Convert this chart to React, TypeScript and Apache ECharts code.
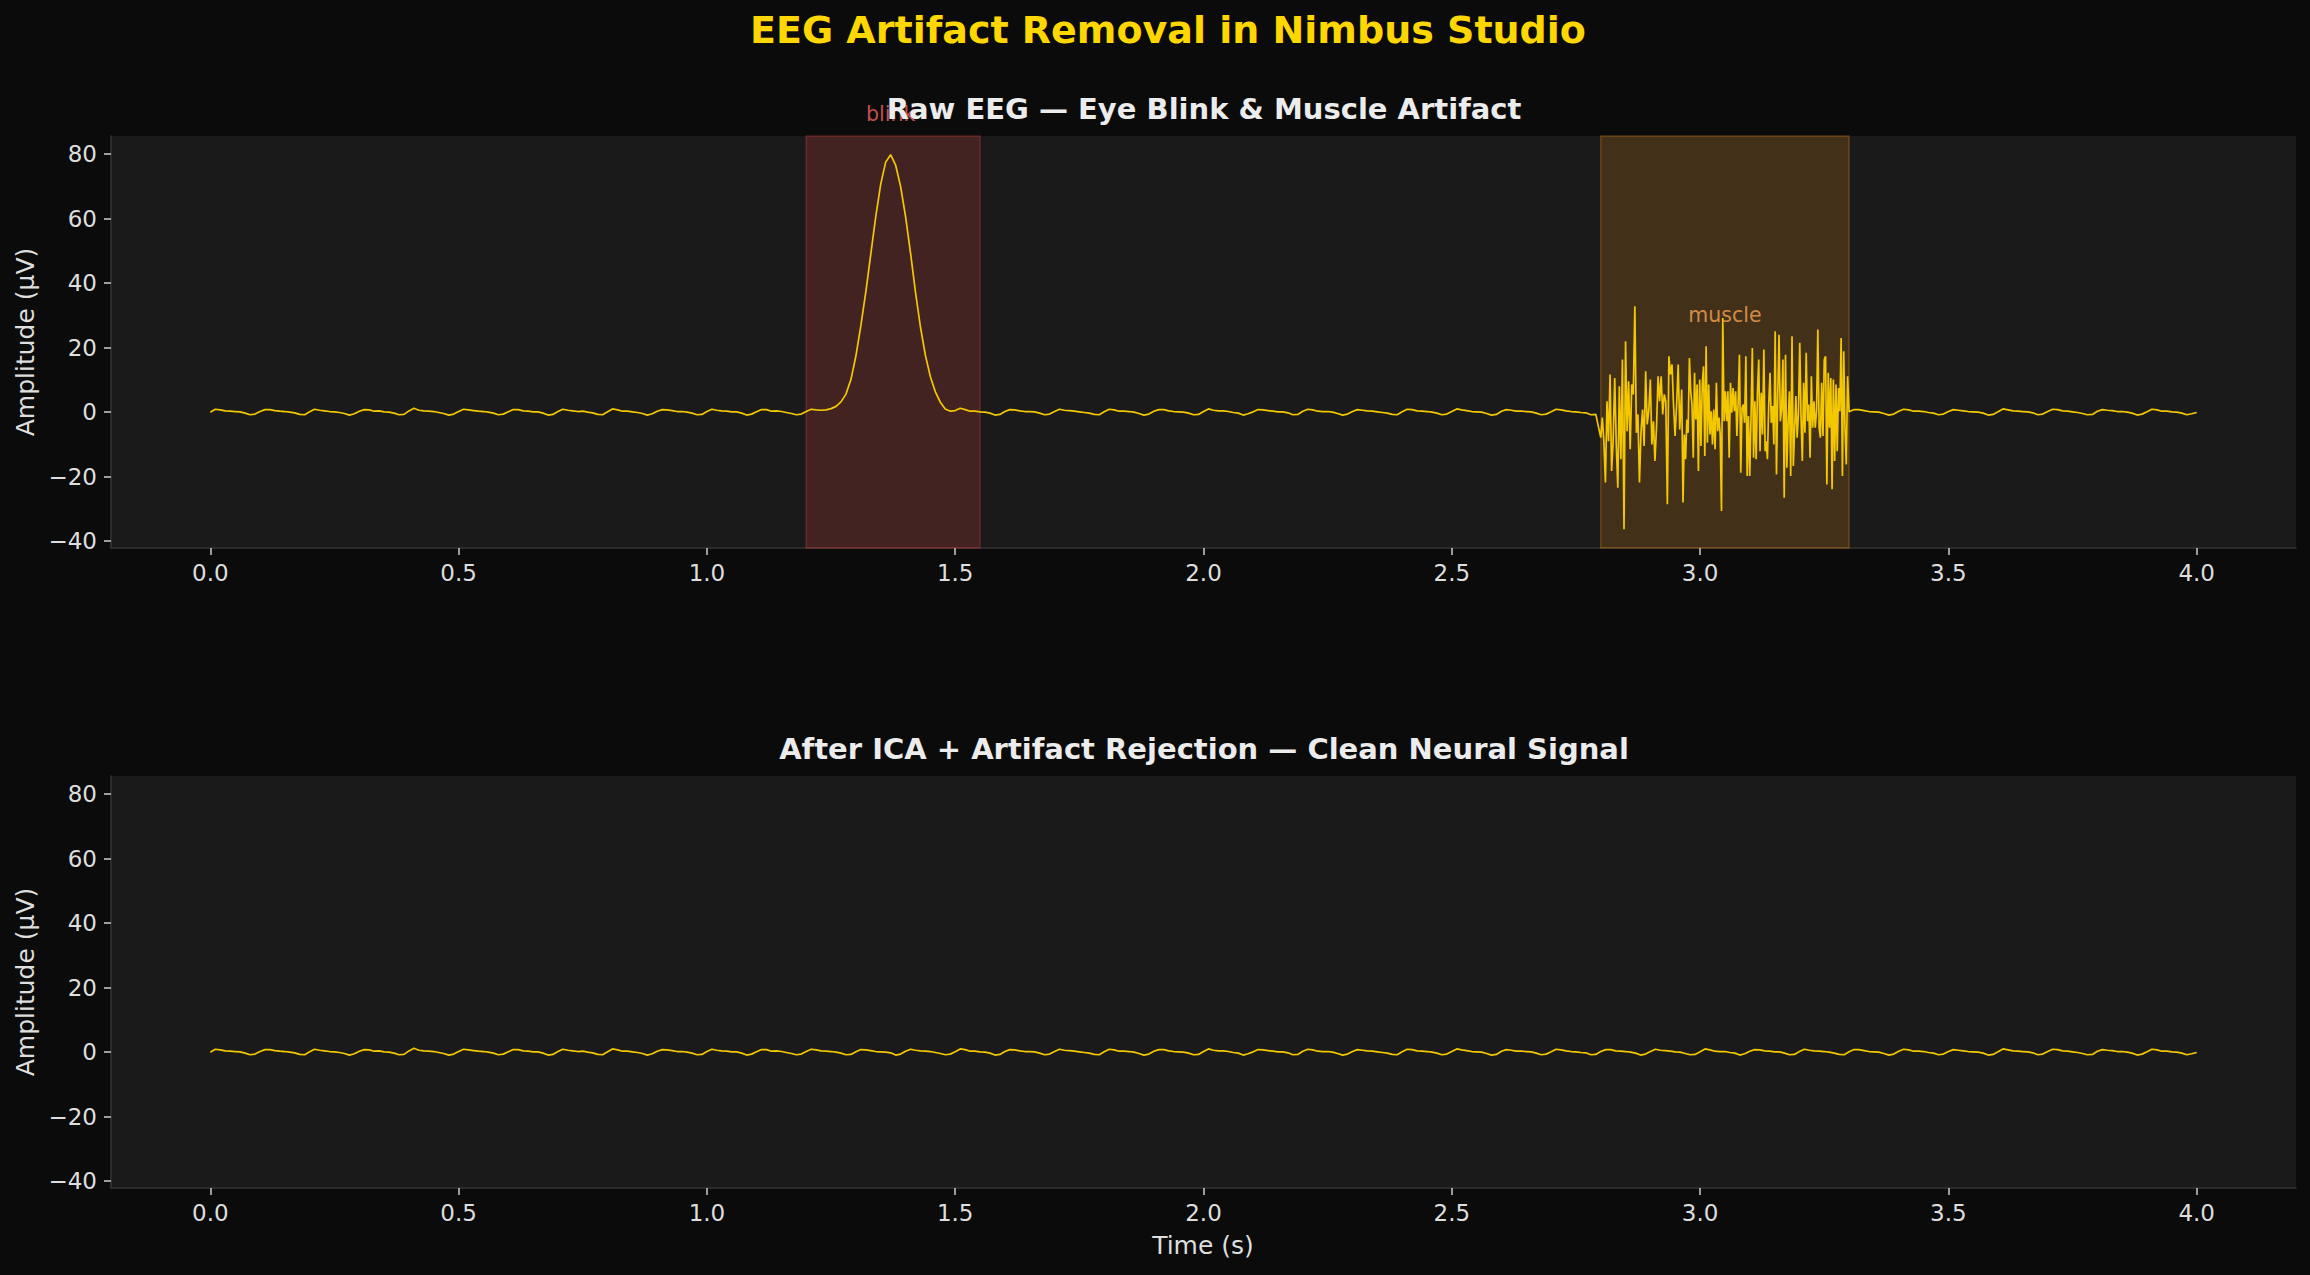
import React, { useEffect, useRef } from 'react';
import * as echarts from 'echarts';

const FONT = '"DejaVu Sans", "Liberation Sans", sans-serif';

const mainTitle = 'EEG Artifact Removal in Nimbus Studio';
const rawTitle = 'Raw EEG \u2014 Eye Blink & Muscle Artifact';
const cleanTitle = 'After ICA + Artifact Rejection \u2014 Clean Neural Signal';
const yLabel = 'Amplitude (\u00b5V)';
const xLabel = 'Time (s)';

const xTicks = [0, 0.5, 1, 1.5, 2, 2.5, 3, 3.5, 4];
const yTicks = [-40, -20, 0, 20, 40, 60, 80];
const xRange = [-0.2, 4.2];
const yRange = [-42.1, 85.6];

// background alpha rhythm, sampled every 0.01 s from 0 to 4 s (µV)
const sampleStep = 0.01;
const cleanSignal = [
  0.0, 0.9, 0.7, 0.4, 0.3, 0.2, 0.1, -0.3, -0.8, -0.6,
  0.2, 0.8, 0.8, 0.5, 0.3, 0.2, 0.0, -0.2, -0.7, -0.8,
  0.1, 0.9, 0.6, 0.4, 0.2, 0.1, -0.1, -0.4, -0.9, -0.5,
  0.3, 0.8, 0.7, 0.3, 0.4, 0.1, 0.0, -0.3, -0.8, -0.7,
  0.4, 1.2, 0.6, 0.4, 0.3, 0.2, -0.1, -0.4, -0.9, -0.6,
  0.2, 0.9, 0.7, 0.5, 0.3, 0.2, 0.0, -0.3, -0.8, -0.6,
  0.1, 0.8, 0.8, 0.4, 0.3, 0.1, 0.1, -0.3, -0.9, -0.7,
  0.2, 0.9, 0.6, 0.4, 0.2, 0.3, 0.0, -0.2, -0.7, -0.8,
  0.1, 1.0, 0.7, 0.3, 0.3, 0.1, -0.1, -0.4, -0.9, -0.5,
  0.3, 0.8, 0.7, 0.5, 0.2, 0.2, 0.0, -0.3, -0.8, -0.7,
  0.2, 0.9, 0.6, 0.4, 0.3, 0.1, 0.1, -0.3, -0.9, -0.6,
  0.1, 0.8, 0.8, 0.3, 0.4, 0.2, -0.1, -0.4, -0.8, -0.6,
  0.2, 0.9, 0.7, 0.4, 0.3, 0.2, 0.0, -0.3, -0.8, -0.7,
  0.1, 0.8, 0.7, 0.5, 0.2, 0.1, 0.0, -0.2, -0.9, -0.6,
  0.3, 0.9, 0.6, 0.4, 0.3, 0.2, -0.1, -0.4, -0.8, -0.6,
  0.1, 1.0, 0.8, 0.3, 0.3, 0.1, 0.0, -0.3, -0.9, -0.7,
  0.2, 0.8, 0.7, 0.4, 0.2, 0.2, 0.1, -0.3, -0.8, -0.6,
  0.2, 0.9, 0.6, 0.5, 0.3, 0.1, -0.1, -0.3, -0.7, -0.8,
  0.1, 0.9, 0.7, 0.3, 0.3, 0.2, 0.0, -0.4, -0.9, -0.6,
  0.3, 0.8, 0.8, 0.4, 0.2, 0.1, 0.0, -0.3, -0.8, -0.7,
  0.2, 1.0, 0.6, 0.4, 0.4, 0.2, -0.1, -0.3, -0.9, -0.5,
  0.1, 0.8, 0.7, 0.5, 0.3, 0.1, 0.1, -0.2, -0.8, -0.7,
  0.3, 0.9, 0.7, 0.3, 0.2, 0.2, 0.0, -0.4, -0.9, -0.6,
  0.2, 0.8, 0.6, 0.4, 0.3, 0.1, -0.1, -0.3, -0.7, -0.8,
  0.1, 0.9, 0.8, 0.4, 0.3, 0.2, 0.0, -0.3, -0.8, -0.6,
  0.2, 1.0, 0.7, 0.5, 0.2, 0.1, 0.0, -0.4, -0.9, -0.7,
  0.3, 0.8, 0.6, 0.3, 0.3, 0.2, 0.1, -0.3, -0.8, -0.6,
  0.1, 0.9, 0.7, 0.4, 0.2, 0.1, -0.1, -0.2, -0.8, -0.7,
  0.2, 0.8, 0.8, 0.4, 0.3, 0.2, 0.0, -0.3, -0.9, -0.6,
  0.2, 0.9, 0.6, 0.5, 0.3, 0.1, 0.0, -0.4, -0.8, -0.7,
  0.1, 1.0, 0.7, 0.3, 0.2, 0.2, -0.1, -0.3, -0.9, -0.5,
  0.3, 0.8, 0.7, 0.4, 0.3, 0.1, 0.1, -0.3, -0.8, -0.7,
  0.2, 0.9, 0.6, 0.4, 0.3, 0.2, 0.0, -0.3, -0.7, -0.8,
  0.1, 0.8, 0.8, 0.5, 0.2, 0.1, 0.0, -0.4, -0.9, -0.6,
  0.3, 0.9, 0.7, 0.3, 0.3, 0.2, -0.1, -0.3, -0.8, -0.6,
  0.2, 0.8, 0.6, 0.4, 0.2, 0.1, 0.0, -0.3, -0.9, -0.7,
  0.1, 1.0, 0.7, 0.4, 0.3, 0.2, 0.1, -0.2, -0.8, -0.6,
  0.2, 0.9, 0.8, 0.4, 0.3, 0.1, -0.1, -0.4, -0.8, -0.7,
  0.3, 0.8, 0.6, 0.5, 0.2, 0.2, 0.0, -0.3, -0.9, -0.6,
  0.1, 0.9, 0.7, 0.3, 0.3, 0.1, 0.0, -0.3, -0.8, -0.5,
  -0.1,
];

// eye blink artifact (raw signal), every 0.01 s from 1.20 s to 1.55 s
const blinkStart = 1.2;
const blinkValues = [
  0.2, 0.9, 0.7, 0.6, 0.7, 1.1, 1.8, 3.2, 5.6, 10.1,
  17.4, 26.8, 37.3, 49.0, 60.6, 70.7, 77.5, 79.8, 76.6, 70.0,
  60.7, 49.4, 37.2, 26.4, 17.6, 11.0, 6.3, 3.1, 1.0, 0.3,
  0.5, 1.2, 0.8, 0.3, 0.3, 0.1,
];

// muscle artifact (raw signal), three stretches read left to right
const muscleSegmentTimes = [
  [2.8, 2.959],
  [2.963, 3.131],
  [3.133, 3.297],
];
const muscleA = [
  -7.9, -1.7, -9.0, -21.8, 3.4, -9.0, 11.7, -18.2, -9.0, 10.6,
  -10.0, -23.4, 8.0, -14.6, 16.3, -36.3, 22.0, -5.9, 9.6, -11.5,
  8.6, 5.5, 32.8, -6.4, -0.7, -21.8, -5.9, 0.8, -10.5, 12.7,
  -3.8, 0.3, 10.1, -10.0, -2.8, -15.1, -4.8, 11.1, 3.4, 11.1,
  -0.7, 5.5, 3.4, -28.5, 17.3, 11.7, 14.8, 2.4, -7.4, 2.4,
  14.8, -5.4,
];
const muscleB = [
  7.0, -28.0, -6.9, -14.6, -2.3, -6.4, 16.8, 6.5, 2.4, -14.1,
  12.2, -2.3, 8.6, -18.2, 10.1, -10.5, 8.6, 14.2, -13.6, 20.4,
  -9.5, 8.6, -6.9, 0.3, -10.0, 0.8, -11.5, 9.1, -5.9, -1.7,
  -6.9, -30.6, 29.2, -2.8, 6.5, -2.8, 6.5, -14.1, 9.1, -0.2,
  7.5, 0.3, 6.5, -7.4, 3.4, 17.8, -18.8, 1.3, 2.4, -3.3,
  17.3, -19.8, -1.2, -19.8, -1.2, 19.9, -14.1, 3.4, -14.6, 6.5,
  16.3, -12.1, 6.0, -6.9, 19.4, -12.1,
];
const muscleC = [
  -9.0, -14.6, 2.4, 12.2, -3.3, 1.9, -10.0, 25.1, -19.3, 5.5,
  24.0, -2.8, 0.8, 16.3, -26.5, 17.8, -17.2, -3.3, 6.5, -19.8,
  23.5, -16.7, -5.4, 5.0, -7.9, -0.2, 21.5, -1.7, -15.1, 9.1,
  -6.4, 18.4, -2.8, 2.4, -14.1, 11.1, -4.8, 3.4, -4.8, 0.3,
  25.6, -4.8, -7.9, 9.1, -7.4, 16.3, 17.3, -22.4, 12.2, -4.8,
  10.6, -23.9, 10.1, -15.1, 8.6, -12.1, 7.5, 0.3, 23.0, -19.8,
  18.9, -4.8, -16.2, 11.1,
];

const artifactSpans = [
  { name: 'blink', start: 1.2, end: 1.55 },
  { name: 'muscle', start: 2.8, end: 3.3 },
];
const artifactLabels = [
  { text: 'blink', t: 1.37, v: 90.5 },
  { text: 'muscle', t: 3.05, v: 28 },
];

const spanStyles: Record<string, any> = {
  blink: { color: 'rgba(255,70,70,0.18)', borderColor: 'rgba(255,70,70,0.28)', borderWidth: 1.5 },
  muscle: { color: 'rgba(255,150,20,0.18)', borderColor: 'rgba(255,150,20,0.28)', borderWidth: 1.5 },
};
const labelColors: Record<string, string> = { blink: '#f46262', muscle: '#f7a552' };

const LINE_COLOR = '#f4c800';

const r3 = (x: number) => Math.round(x * 10000) / 10000;

function buildData() {
  const cleanData = cleanSignal.map((v, i) => [r3(i * sampleStep), v]);
  const blinkData = blinkValues.map((v, i) => [r3(blinkStart + i * sampleStep), v]);
  const blinkEnd = blinkData[blinkData.length - 1][0];
  const muscleParts = [muscleA, muscleB, muscleC];
  const muscleData = muscleParts.flatMap((vals, k) => {
    const [s, e] = muscleSegmentTimes[k];
    const step = (e - s) / (vals.length - 1);
    return vals.map((v, i) => [r3(s + i * step), v]);
  });
  const mStart = muscleSegmentTimes[0][0];
  const mEnd = muscleSegmentTimes[muscleSegmentTimes.length - 1][1];
  const eps = 1e-9;
  const rawData = [
    ...cleanData.filter((p) => p[0] < blinkStart - eps),
    ...blinkData,
    ...cleanData.filter((p) => p[0] > blinkEnd + eps && p[0] < mStart - eps),
    ...muscleData,
    ...cleanData.filter((p) => p[0] > mEnd + eps),
  ];
  return { cleanData, rawData };
}

const fmtY = (v: number) => (v < 0 ? '\u2212' + Math.abs(v) : String(v));

function makeX(gridIndex: number) {
  return {
    type: 'value',
    gridIndex,
    min: xRange[0],
    max: xRange[1],
    axisLine: { show: true, onZero: false, lineStyle: { color: '#353535', width: 1.5 } },
    axisTick: { show: true, length: 7, lineStyle: { color: '#cfcfcf', width: 1.5 }, customValues: xTicks },
    axisLabel: {
      customValues: xTicks,
      formatter: (v: number) => v.toFixed(1),
      color: '#dedede',
      fontSize: 23,
      fontFamily: FONT,
      margin: 13,
    },
    splitLine: { show: false },
  };
}

function makeY(gridIndex: number) {
  return {
    type: 'value',
    gridIndex,
    min: yRange[0],
    max: yRange[1],
    axisLine: { show: true, onZero: false, lineStyle: { color: '#353535', width: 1.5 } },
    axisTick: { show: true, length: 7, lineStyle: { color: '#cfcfcf', width: 1.5 }, customValues: yTicks },
    axisLabel: {
      customValues: yTicks,
      formatter: fmtY,
      color: '#dedede',
      fontSize: 23,
      fontFamily: FONT,
      margin: 14,
    },
    splitLine: { show: false },
  };
}

function textEl(text: string, x: number, y: number, size: number, color: string, bold: boolean, rotation = 0) {
  return {
    type: 'text',
    x,
    y,
    rotation,
    z: 100,
    silent: true,
    style: {
      text,
      fill: color,
      fontSize: size,
      fontWeight: bold ? 'bold' : 'normal',
      fontFamily: FONT,
      align: 'center',
      verticalAlign: 'middle',
    },
  };
}

export default function App() {
  const ref = useRef<HTMLDivElement>(null);

  useEffect(() => {
    document.body.style.margin = '0';
    document.body.style.background = '#0b0b0b';
    if (!ref.current) return;
    const chart = echarts.init(ref.current, undefined, { renderer: 'svg' });
    const { cleanData, rawData } = buildData();

    const option: any = {
      animation: false,
      backgroundColor: '#0b0b0b',
      textStyle: { fontFamily: FONT },
      grid: [
        { left: 111, right: 14, top: 136, height: 412, show: true, backgroundColor: '#1a1a1a', borderWidth: 0 },
        { left: 111, right: 14, top: 776, height: 412, show: true, backgroundColor: '#1a1a1a', borderWidth: 0 },
      ],
      xAxis: [makeX(0), makeX(1)],
      yAxis: [makeY(0), makeY(1)],
      graphic: [
        textEl(mainTitle, 1168, 30, 38, '#FFD700', true),
        textEl(rawTitle, 1204, 109, 29, '#ececec', true),
        textEl(cleanTitle, 1204, 749, 29, '#ececec', true),
        textEl(yLabel, 25.5, 342, 25, '#dedede', false, Math.PI / 2),
        textEl(yLabel, 25.5, 982, 25, '#dedede', false, Math.PI / 2),
        textEl(xLabel, 1203, 1245, 25, '#dedede', false),
      ],
      series: [
        {
          name: 'spans',
          type: 'line',
          xAxisIndex: 0,
          yAxisIndex: 0,
          data: [],
          z: 1,
          silent: true,
          markArea: {
            silent: true,
            data: artifactSpans.map((s) => [
              { xAxis: s.start, itemStyle: spanStyles[s.name] },
              { xAxis: s.end },
            ]),
          },
        },
        {
          name: 'raw',
          type: 'line',
          xAxisIndex: 0,
          yAxisIndex: 0,
          data: rawData,
          showSymbol: false,
          symbol: 'none',
          z: 3,
          silent: true,
          lineStyle: { color: LINE_COLOR, width: 1.7 },
        },
        {
          name: 'clean',
          type: 'line',
          xAxisIndex: 1,
          yAxisIndex: 1,
          data: cleanData,
          showSymbol: false,
          symbol: 'none',
          z: 3,
          silent: true,
          lineStyle: { color: LINE_COLOR, width: 1.7 },
        },
        {
          name: 'labels',
          type: 'scatter',
          xAxisIndex: 0,
          yAxisIndex: 0,
          symbolSize: 0,
          clip: false,
          z: 4,
          silent: true,
          data: artifactLabels.map((l) => ({
            value: [l.t, l.v],
            label: {
              show: true,
              position: 'inside',
              formatter: l.text,
              color: labelColors[l.text],
              fontSize: 20.5,
              fontFamily: FONT,
              align: 'center',
              verticalAlign: 'bottom',
              offset: [0, 4],
            },
          })),
        },
      ],
    };

    chart.setOption(option);
    return () => chart.dispose();
  }, []);

  return <div ref={ref} style={{ width: 2310, height: 1275, background: '#0b0b0b' }} />;
}
